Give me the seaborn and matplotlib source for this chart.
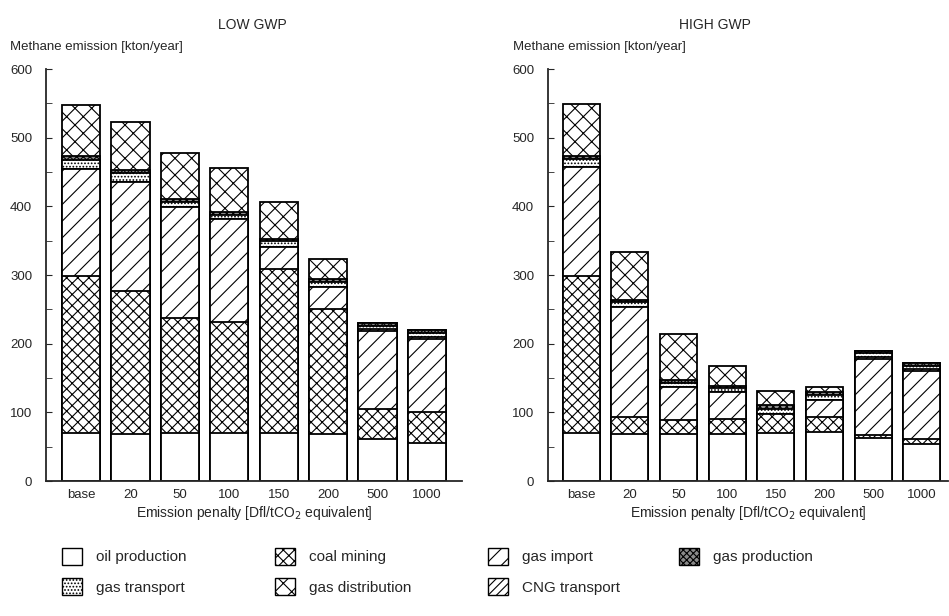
import numpy as np
import pandas as pd
import matplotlib
matplotlib.use("Agg")
import matplotlib.pyplot as plt
from matplotlib.patches import Patch
from matplotlib.ticker import MultipleLocator
import seaborn as sns

sns.set_style("ticks")
plt.rcParams['font.family'] = ['Liberation Sans', 'DejaVu Sans']
plt.rcParams['hatch.linewidth'] = 0.8

categories = ["base", "20", "50", "100", "150", "200", "500", "1000"]
layers = ["oil production", "coal mining", "gas import", "CNG transport",
          "gas transport", "gas production", "gas distribution"]

# LOW GWP
low_oil = [70, 69, 70, 70, 70, 68, 61, 55]
low_coal = [228, 208, 168, 162, 239, 182, 44, 45]
low_import = [157, 159, 161, 149, 32, 33, 113, 107]
low_cng = [0, 0, 0, 0, 0, 0, 3, 3]
low_transport = [12, 12, 7, 7, 8, 7, 5, 6]
low_production = [6, 5, 4, 4, 4, 4, 4, 4]
low_distribution = [75, 70, 67, 64, 54, 30, 0, 0]

# HIGH GWP
high_oil = [70, 69, 68, 69, 70, 72, 62, 54]
high_coal = [228, 24, 21, 22, 28, 21, 5, 7]
high_import = [159, 160, 48, 38, 0, 25, 111, 99]
high_cng = [0, 0, 0, 0, 0, 0, 3, 3]
high_transport = [12, 7, 6, 6, 7, 7, 5, 5]
high_production = [5, 4, 4, 4, 5, 4, 4, 4]
high_distribution = [75, 70, 67, 28, 21, 8, 0, 0]

styles = {
    "oil production": dict(fc="white", hatch=None),
    "coal mining": dict(fc="white", hatch="xxx"),
    "gas import": dict(fc="white", hatch="//"),
    "CNG transport": dict(fc="white", hatch="////"),
    "gas transport": dict(fc="white", hatch="....."),
    "gas production": dict(fc="#8a8a8a", hatch="xxxxx"),
    "gas distribution": dict(fc="white", hatch="xx"),
}

W, H = 949, 616
fig = plt.figure(figsize=(W / 100, H / 100), dpi=100)


def draw(ax, series, width):
    cum = np.cumsum(np.array(series), axis=0)
    for i in range(len(layers) - 1, -1, -1):
        df = pd.DataFrame({"cat": categories, "val": cum[i]})
        sns.barplot(data=df, x="cat", y="val", order=categories, ax=ax,
                    width=width, color="white", edgecolor="black",
                    linewidth=1.3, errorbar=None)
        st = styles[layers[i]]
        for p in ax.containers[-1]:
            p.set_facecolor(st["fc"])
            if st["hatch"]:
                p.set_hatch(st["hatch"])
    ax.set_ylim(0, 600)
    ax.yaxis.set_major_locator(MultipleLocator(100))
    ax.yaxis.set_minor_locator(MultipleLocator(50))
    ax.tick_params(axis="y", which="both", direction="in", length=4,
                   labelsize=9.5, pad=10)
    ax.tick_params(axis="x", length=0, labelsize=9.5, pad=6)
    ax.set_xlabel("Emission penalty [Dfl/tCO$_2$ equivalent]", fontsize=10, labelpad=2)
    ax.set_ylabel("")
    for s in ["top", "right"]:
        ax.spines[s].set_visible(False)
    for s in ["left", "bottom"]:
        ax.spines[s].set_linewidth(1.3)


ax1 = fig.add_axes([46 / W, (H - 481) / H, 416 / W, 412 / H])
draw(ax1, [low_oil, low_coal, low_import, low_cng, low_transport,
           low_production, low_distribution], 0.77)
ax1.set_xlim(-0.71, 7.71)

ax2 = fig.add_axes([548 / W, (H - 481) / H, 400 / W, 412 / H])
draw(ax2, [high_oil, high_coal, high_import, high_cng, high_transport,
           high_production, high_distribution], 0.76)
ax2.set_xlim(-0.68, 7.54)

fig.text(252 / W, 1 - 25 / H, "LOW GWP", ha="center", va="center", fontsize=10)
fig.text(715 / W, 1 - 25 / H, "HIGH GWP", ha="center", va="center", fontsize=10)
fig.text(10 / W, 1 - 47 / H, "Methane emission [kton/year]", ha="left", va="center", fontsize=9.5)
fig.text(513 / W, 1 - 47 / H, "Methane emission [kton/year]", ha="left", va="center", fontsize=9.5)


def handle(name):
    st = styles[name]
    return Patch(facecolor=st["fc"], edgecolor="black", hatch=st["hatch"], linewidth=1.0)


columns = [
    (["oil production", "gas transport"], 62),
    (["coal mining", "gas distribution"], 275),
    (["gas import", "CNG transport"], 488),
    (["gas production"], 679),
]
for names, x in columns:
    leg = fig.legend([handle(n) for n in names], names, loc="upper left",
                     bbox_to_anchor=(x / W, 1 - 548 / H), frameon=False,
                     fontsize=11, handlelength=1.3, handleheight=1.3,
                     handletextpad=0.9, labelspacing=0.9, borderaxespad=0,
                     borderpad=0)

fig.savefig("out.png", dpi=100)
